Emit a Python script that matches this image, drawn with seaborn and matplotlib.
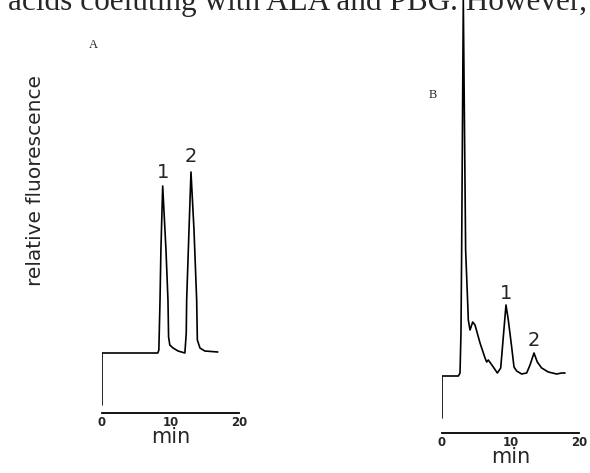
import matplotlib
matplotlib.use("Agg")
import matplotlib.pyplot as plt
import seaborn as sns
import pandas as pd

# --- DATA: chromatogram traces (time in min, relative fluorescence) ---
time_a = [0.0, 0.0, 8.15, 8.3, 8.47, 8.6, 8.86, 9.34, 9.63, 9.72, 9.9, 10.37, 11.1, 12.1,
          12.3, 12.36, 12.7, 12.99, 13.43, 13.82, 13.92, 14.3, 15.0, 16.9]
signal_a = [0.8, 6.0, 6.0, 6.3, 11.3, 16.3, 22.7, 16.3, 11.3, 7.6, 6.8, 6.5, 6.2, 6.0,
            8.0, 11.3, 18.3, 24.1, 18.3, 11.3, 7.3, 6.5, 6.2, 6.1]

time_b = [0.0, 0.0, 2.39, 2.63, 2.77, 2.87, 3.11, 3.45, 3.75, 3.84, 4.09, 4.48, 4.82,
          5.55, 6.28, 6.52, 6.76, 7.49, 8.08, 8.57, 8.95, 9.34, 9.68, 10.17, 10.51,
          10.9, 11.63, 12.36, 12.85, 13.43, 13.91, 14.55, 15.52, 16.74, 17.47, 17.96]
signal_b = [1.5, 5.7, 5.7, 6.0, 10.0, 18.3, 43.3, 18.3, 13.0, 11.3, 10.3, 11.1, 10.8,
            9.0, 7.5, 7.1, 7.3, 6.6, 6.0, 6.5, 9.6, 12.8, 11.3, 8.6, 6.6,
            6.2, 5.9, 6.0, 6.8, 8.0, 7.1, 6.5, 6.1, 5.9, 6.0, 6.0]

# peak labels (peak number, time, height of label centre)
peaks_a = ["1", "2"]
peak_time_a = [8.9, 13.0]
peak_label_y_a = [24.1, 25.6]
peaks_b = ["1", "2"]
peak_time_b = [9.34, 13.43]
peak_label_y_b = [14.0, 9.3]

xticks = [0, 5, 10, 15, 20]
xticklabels = ["0", "", "10", "", "20"]

caption = "acids coeluting with ALA and PBG. However,"

sns.set_style("white")
plt.rcParams["font.family"] = ["DejaVu Sans"]

W, H = 590, 473
fig = plt.figure(figsize=(W / 100, H / 100), dpi=100)


def panel(left_px, axis_px, top_val, t, s, names, pt, py, letter, letter_xy):
    ax = fig.add_axes([left_px / W, 1 - axis_px / H, 137 / W, axis_px / H])
    df = pd.DataFrame({"t": t, "s": s})
    sns.lineplot(data=df, x="t", y="s", sort=False, estimator=None,
                 color="black", linewidth=1.2, ax=ax)
    ax.set_xlim(0, 20)
    ax.set_ylim(0, top_val)
    ax.patch.set_alpha(0)
    for side in ["left", "right", "top"]:
        ax.spines[side].set_visible(False)
    ax.spines["bottom"].set_linewidth(1.3)
    ax.spines["bottom"].set_color("black")
    ax.set_yticks([])
    ax.set_xticks(xticks)
    ax.set_xticklabels(xticklabels, fontsize=8.5, fontweight="bold")
    ax.tick_params(axis="x", direction="in", length=5.5, width=1.3, pad=2, color="black")
    ax.set_xlabel("min", fontsize=15, labelpad=-1)
    ax.set_ylabel("")
    for n, x, y in zip(names, pt, py):
        ax.text(x, y, n, fontsize=14, ha="center", va="center")
    fig.text(letter_xy[0] / W, 1 - letter_xy[1] / H, letter, family="Liberation Serif",
             fontsize=9, ha="center", va="center")
    return ax


panel(102, 413, 41.3, time_a, signal_a, peaks_a, peak_time_a, peak_label_y_a, "A", (93, 45))
panel(442, 433, 43.3, time_b, signal_b, peaks_b, peak_time_b, peak_label_y_b, "B", (433, 95))

fig.text(36 / W, 1 - 181 / H, "relative fluorescence", rotation=90,
         fontsize=14.5, ha="center", va="center")

fig.text(8 / W, 1 - 10 / H, caption, family="Liberation Serif", fontsize=22.5,
         ha="left", va="baseline")

fig.savefig("out.png", dpi=100)
